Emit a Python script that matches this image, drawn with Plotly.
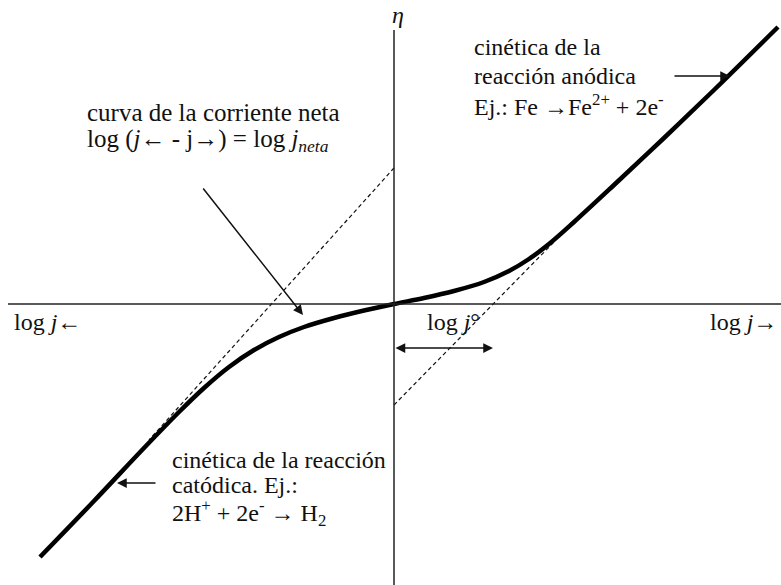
import plotly.graph_objects as go

# Net current curve: x = log j, y = overpotential eta (origin at the axes crossing)
curve_x = [-3.54, -3.00, -2.50, -2.15, -1.90, -1.65, -1.40, -1.15, -0.90, -0.60, -0.30, 0.0,
           0.30, 0.60, 0.90, 1.15, 1.35, 1.55, 1.80, 2.20, 2.70, 3.20, 3.84]
curve_y = [-2.53, -1.97, -1.44, -1.08, -0.84, -0.63, -0.46, -0.33, -0.23, -0.14, -0.065, 0.0,
           0.06, 0.13, 0.22, 0.33, 0.45, 0.60, 0.82, 1.19, 1.66, 2.14, 2.77]

# Tafel extrapolations (dashed)
cath_tafel_x = [0.0, -2.45]
cath_tafel_y = [1.36, -1.36]
anod_tafel_x = [0.0, 1.62]
anod_tafel_y = [-1.01, 0.64]

# log j0 marker
j0_x = 0.99
j0_y = -0.44

X_RANGE = [-3.94, 3.87]
Y_RANGE = [-2.81, 3.04]

FONT = "Liberation Serif, Times New Roman, serif"
INK = "#111111"

fig = go.Figure()

for tx, ty in ((cath_tafel_x, cath_tafel_y), (anod_tafel_x, anod_tafel_y)):
    fig.add_trace(go.Scatter(x=tx, y=ty, mode="lines",
                             line=dict(color=INK, width=1.2, dash="4px,3px"),
                             hoverinfo="skip"))

fig.add_trace(go.Scatter(x=curve_x, y=curve_y, mode="lines",
                         line=dict(color="#000000", width=4.5, shape="spline", smoothing=1.0),
                         hoverinfo="skip"))

# Axes drawn as lines through the origin
fig.add_shape(type="line", x0=-3.86, x1=3.87, y0=0, y1=0,
              line=dict(color="#222222", width=1.5))
fig.add_shape(type="line", x0=0, x1=0, y0=-2.81, y1=2.74,
              line=dict(color="#222222", width=1.5))

def label(x, y, text, size=24, xanchor="left"):
    fig.add_annotation(x=x, y=y, text=text, showarrow=False, xanchor=xanchor,
                       yanchor="middle", font=dict(family=FONT, size=size, color=INK))

def arrow(x0, y0, x1, y1, side="end"):
    fig.add_annotation(x=x1, y=y1, ax=x0, ay=y0, xref="x", yref="y",
                       axref="x", ayref="y", text="", showarrow=True,
                       arrowhead=2, arrowsize=1.3, arrowwidth=1.5,
                       arrowcolor=INK, arrowside=side)

# Axis titles
label(0.04, 2.89, "<i>η</i>", size=24, xanchor="center")
label(-3.82, -0.18, "log <i>j</i>←")
label(0.31, -0.18, "log <i>j</i>°")
label(3.14, -0.18, "log <i>j</i>→")

# Net curve note
label(-3.09, 1.92, "curva de la corriente neta", size=25)
label(-3.09, 1.64, "log (<i>j</i>← - j→) = log <i>j<sub>neta</sub></i>", size=25)
arrow(-1.92, 1.17, -0.91, -0.11)

# Anodic note
label(0.78, 2.57, "cinética de la")
label(0.78, 2.28, "reacción anódica")
label(0.78, 1.99, "Ej.: Fe →Fe<sup>2+</sup> + 2e<sup>-</sup>")
arrow(2.79, 2.28, 3.36, 2.28)

# Cathodic note
label(-2.24, -1.56, "cinética de la reacción")
label(-2.24, -1.81, "catódica. Ej.:")
label(-2.24, -2.09, "2H<sup>+</sup> + 2e<sup>-</sup> → H<sub>2</sub>")
arrow(-2.37, -1.79, -2.77, -1.79)

# Exchange current span
arrow(0.0, j0_y, j0_x, j0_y, side="end+start")

fig.update_layout(
    width=781, height=585,
    margin=dict(l=0, r=0, t=0, b=0),
    paper_bgcolor="white", plot_bgcolor="white",
    showlegend=False,
    xaxis=dict(range=X_RANGE, visible=False, fixedrange=True),
    yaxis=dict(range=Y_RANGE, visible=False, fixedrange=True),
)

fig.write_html("out.html")
